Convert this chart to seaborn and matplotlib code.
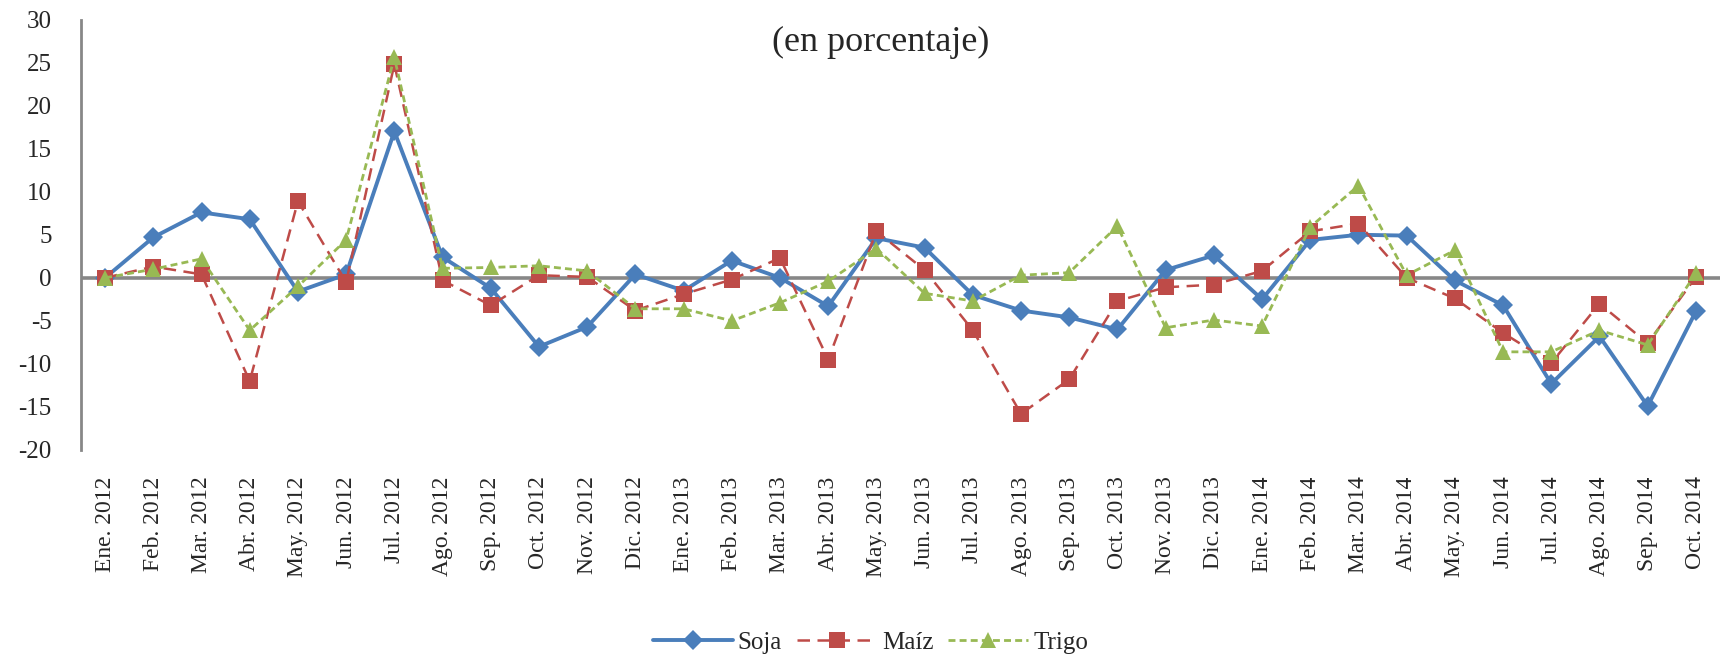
import numpy as np
import pandas as pd
import matplotlib
matplotlib.use("Agg")
import matplotlib.pyplot as plt
import seaborn as sns
from matplotlib.lines import Line2D

months = ["Ene. 2012", "Feb. 2012", "Mar. 2012", "Abr. 2012", "May. 2012", "Jun. 2012",
          "Jul. 2012", "Ago. 2012", "Sep. 2012", "Oct. 2012", "Nov. 2012", "Dic. 2012",
          "Ene. 2013", "Feb. 2013", "Mar. 2013", "Abr. 2013", "May. 2013", "Jun. 2013",
          "Jul. 2013", "Ago. 2013", "Sep. 2013", "Oct. 2013", "Nov. 2013", "Dic. 2013",
          "Ene. 2014", "Feb. 2014", "Mar. 2014", "Abr. 2014", "May. 2014", "Jun. 2014",
          "Jul. 2014", "Ago. 2014", "Sep. 2014", "Oct. 2014"]

soja = [0.0, 4.7, 7.6, 6.8, -1.6, 0.4, 17.0, 2.4, -1.2, -8.0, -5.7, 0.4,
        -1.5, 2.0, 0.0, -3.3, 4.6, 3.5, -2.0, -3.8, -4.6, -6.0, 0.9, 2.6,
        -2.5, 4.4, 5.0, 4.9, -0.3, -3.2, -12.3, -6.8, -14.9, -3.9]

maiz = [0.0, 1.3, 0.4, -12.0, 8.9, -0.5, 24.8, -0.3, -3.2, 0.3, 0.1, -3.8,
        -1.9, -0.2, 2.3, -9.5, 5.4, 0.9, -6.1, -15.8, -11.8, -2.7, -1.1, -0.8,
        0.8, 5.4, 6.3, 0.0, -2.4, -6.4, -9.9, -3.0, -7.6, 0.1]

trigo = [0.0, 1.0, 2.2, -6.1, -1.0, 4.4, 25.6, 1.1, 1.2, 1.4, 0.8, -3.6,
         -3.6, -5.0, -2.9, -0.4, 3.4, -1.8, -2.7, 0.3, 0.6, 6.0, -5.8, -4.9,
         -5.6, 5.9, 10.7, 0.3, 3.2, -8.6, -8.6, -6.1, -7.8, 0.5]

series_names = ["Soja", "Maíz", "Trigo"]
colors = {"Soja": "#4A7EBB", "Maíz": "#BE4B48", "Trigo": "#98B954"}

df = pd.DataFrame({
    "idx": list(range(len(months))) * 3,
    "valor": soja + maiz + trigo,
    "serie": ["Soja"] * len(months) + ["Maíz"] * len(months) + ["Trigo"] * len(months),
})

sns.set_style("white")
plt.rcParams["font.family"] = ["Liberation Serif", "DejaVu Serif"]
plt.rcParams["axes.unicode_minus"] = False

fig = plt.figure(figsize=(17.2, 6.57), dpi=100)
ax = fig.add_axes([81 / 1720, 1 - 450 / 657, 1 - 81 / 1720, (450 - 19.5) / 657])

ax.axhline(0, color="#878787", lw=2.6, zorder=1)

sns.lineplot(data=df, x="idx", y="valor", hue="serie", style="serie",
             palette=colors,
             markers={"Soja": "D", "Maíz": "s", "Trigo": "^"},
             dashes={"Soja": "", "Maíz": (5, 3), "Trigo": (2.5, 1.5)},
             markeredgewidth=0, ax=ax, legend=False, zorder=3)

lws = {"Soja": 2.8, "Maíz": 1.8, "Trigo": 2.0}
msz = {"Soja": 10, "Maíz": 11, "Trigo": 12}
for line, name in zip(ax.get_lines()[1:], series_names):
    line.set_linewidth(lws[name])
    line.set_markersize(msz[name])

ax.set_xlim(-0.5, len(months) - 0.5)
ax.set_ylim(-20, 30)
ax.set_yticks(np.arange(-20, 31, 5))
ax.set_xticks(range(len(months)))
ax.set_xticklabels(months, rotation=90)
ax.set_xlabel("")
ax.set_ylabel("")
ax.tick_params(axis="y", length=0, pad=21, labelsize=18)
ax.tick_params(axis="x", length=0, pad=19, labelsize=17)

for s in ["top", "right", "bottom"]:
    ax.spines[s].set_visible(False)
ax.spines["left"].set_color("#878787")
ax.spines["left"].set_linewidth(2)
ax.grid(False)

fig.text(0.512, 0.935, "(en porcentaje)", ha="center", va="center", fontsize=26)

handles = [
    Line2D([], [], color=colors["Soja"], lw=2.8, marker="D", markersize=10, markeredgewidth=0),
    Line2D([], [], color=colors["Maíz"], lw=1.8, ls=(0, (5, 3)), marker="s", markersize=11, markeredgewidth=0),
    Line2D([], [], color=colors["Trigo"], lw=2.0, ls=(0, (2.5, 1.5)), marker="^", markersize=12, markeredgewidth=0),
]
fig.legend(handles, series_names, loc="center", bbox_to_anchor=(0.506, 0.022), ncol=3,
           frameon=False, fontsize=18, handlelength=3.2, columnspacing=0.6, handletextpad=0.2)

fig.savefig("out.png", dpi=100, facecolor="white")
